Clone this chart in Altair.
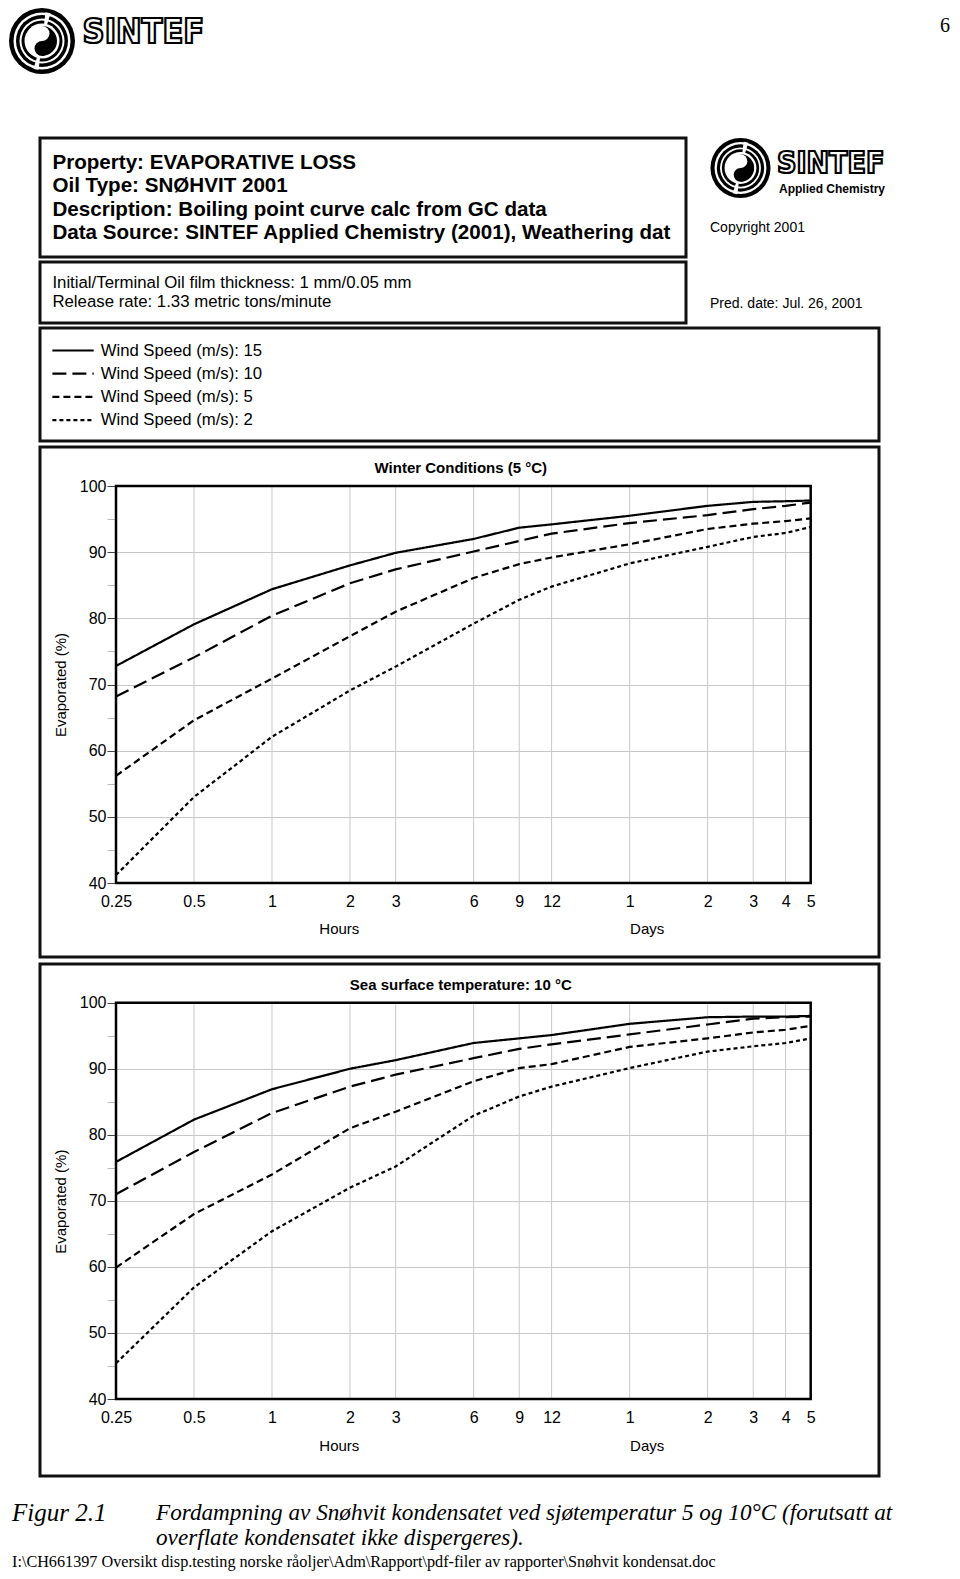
import altair as alt
import pandas as pd

# ---------------- data ----------------
hours = [0.25, 0.5, 1, 2, 3, 6, 9, 12, 24, 48, 72, 96, 120]
series_labels = ["Wind Speed (m/s): 15", "Wind Speed (m/s): 10",
                 "Wind Speed (m/s): 5", "Wind Speed (m/s): 2"]

winter_ws15 = [72.8, 79.1, 84.4, 88.0, 89.9, 92.0, 93.7, 94.2, 95.5, 97.0, 97.6, 97.7, 97.8]
winter_ws10 = [68.2, 74.1, 80.4, 85.3, 87.4, 90.1, 91.7, 92.8, 94.4, 95.6, 96.5, 97.0, 97.5]
winter_ws5 = [56.2, 64.6, 70.9, 77.3, 81.0, 86.1, 88.2, 89.2, 91.2, 93.5, 94.3, 94.7, 95.1]
winter_ws2 = [41.2, 53.0, 62.1, 69.1, 72.7, 79.2, 82.8, 84.8, 88.3, 90.8, 92.3, 92.9, 93.8]

sea10_ws15 = [75.9, 82.3, 86.9, 90.0, 91.3, 93.9, 94.6, 95.1, 96.8, 97.8, 97.9, 97.9, 98.0]
sea10_ws10 = [71.0, 77.4, 83.3, 87.3, 89.1, 91.6, 93.0, 93.7, 95.2, 96.7, 97.6, 97.8, 97.9]
sea10_ws5 = [59.9, 68.0, 74.0, 81.0, 83.5, 88.1, 90.1, 90.7, 93.3, 94.6, 95.5, 95.9, 96.5]
sea10_ws2 = [45.4, 56.9, 65.4, 72.0, 75.2, 82.9, 85.8, 87.3, 90.1, 92.6, 93.4, 93.9, 94.6]

y_tick_values = [40, 45, 50, 55, 60, 65, 70, 75, 80, 85, 90, 95, 100]

header_lines = ["Property: EVAPORATIVE LOSS", "Oil Type: SNØHVIT 2001",
                "Description: Boiling point curve calc from GC data",
                "Data Source: SINTEF Applied Chemistry (2001), Weathering data"]
info_lines = ["Initial/Terminal Oil film thickness: 1 mm/0.05 mm",
              "Release rate: 1.33 metric tons/minute"]

# ---------------- layout constants ----------------
W, H = 944, 1563
PX0, PX1 = 108, 802.7
DASHES = [[1, 0], [14, 6], [7, 4], [4, 3]]
FONT = "Liberation Sans"
ONE = alt.Data(values=[{}])


def long_df(lists):
    rows = []
    for lab, vals in zip(series_labels, lists):
        for h, v in zip(hours, vals):
            rows.append({"hours": h, "evap": v, "series": lab})
    return pd.DataFrame(rows)


def plot(df, y_top, y_bot):
    xs = alt.Scale(type="log", domain=[0.25, 120], range=[PX0, PX1], nice=False)
    ys = alt.Scale(domain=[40, 100], range=[y_bot, y_top], nice=False, zero=False)
    xaxis = alt.Axis(orient="bottom", offset=y_bot - H, values=hours,
                     labelExpr="datum.value >= 24 ? '' + (datum.value / 24) : '' + datum.value",
                     labelOverlap=False, labelFlush=False, labelFont=FONT, labelFontSize=16,
                     labelColor="black", labelBaseline="middle", labelPadding=18.5,
                     ticks=True, tickSize=0, domain=False, grid=False, title=None)
    yaxis = alt.Axis(orient="left", offset=-PX0, values=y_tick_values,
                     labelExpr="datum.value % 10 == 0 ? datum.label : ''",
                     labelFont=FONT, labelFontSize=16, labelColor="black",
                     labelPadding=1, tickSize=9, domain=False,
                     tickColor={"condition": {"test": "datum.value % 10 != 0", "value": "#bbbbbb"},
                                "value": "#444444"},
                     grid=True, gridWidth=1,
                     gridColor={"condition": {"test": "datum.value % 10 != 0", "value": "transparent"},
                                "value": "#c8c8c8"},
                     title=None)
    grid = alt.Chart(pd.DataFrame({"hours": hours})).mark_rule(
        color="#c8c8c8", strokeWidth=1).encode(
        x=alt.X("hours:Q", scale=xs, axis=xaxis),
        y=alt.YDatum(40, scale=ys, axis=yaxis),
        y2=alt.datum(100))
    lines = alt.Chart(df).mark_line(strokeWidth=2.2, color="black").encode(
        x=alt.X("hours:Q", scale=xs, axis=xaxis),
        y=alt.Y("evap:Q", scale=ys, axis=yaxis),
        strokeDash=alt.StrokeDash("series:N",
                                  scale=alt.Scale(domain=series_labels, range=DASHES),
                                  legend=None),
    )
    frame = alt.Chart(ONE).mark_rect(fillOpacity=0, stroke="black", strokeWidth=2.5).encode(
        x=alt.XDatum(0.25, scale=xs, axis=xaxis), x2=alt.datum(120),
        y=alt.YDatum(40, scale=ys, axis=yaxis), y2=alt.datum(100))
    return alt.layer(grid, lines, frame)


def text(s, x, y, size, weight="normal", font=FONT, align="left", style="normal",
         angle=0, **kw):
    return alt.Chart(ONE).mark_text(text=s, fontSize=size, fontWeight=weight, font=font,
                                    align=align, baseline="middle", fontStyle=style,
                                    angle=angle, **kw).encode(x=alt.value(x), y=alt.value(y))


def box(x1, y1, x2, y2, sw=3):
    return alt.Chart(ONE).mark_rect(fillOpacity=0, stroke="#111111", strokeWidth=sw).encode(
        x=alt.value(x1), x2=alt.value(x2), y=alt.value(y1), y2=alt.value(y2))


def hline(x1, x2, y, dash):
    return alt.Chart(ONE).mark_rule(color="black", strokeWidth=2.2, strokeDash=dash).encode(
        x=alt.value(x1), x2=alt.value(x2), y=alt.value(y))


def disk(cx, cy, r, color, r2=0, t0=0.0, t1=6.2832):
    return alt.Chart(ONE).mark_arc(radius=r, radius2=r2, theta=t0, theta2=t1,
                                   color=color).encode(x=alt.value(cx), y=alt.value(cy))


def logo(cx, cy, s):
    parts = [disk(cx, cy, 33 * s, "black"), disk(cx, cy, 28.5 * s, "white"),
             disk(cx, cy, 26 * s, "black"), disk(cx, cy, 22.5 * s, "white"),
             disk(cx, cy, 20.5 * s, "black"), disk(cx, cy, 17.5 * s, "white"),
             disk(cx, cy, 29 * s, "white", r2=16 * s, t0=0.12, t1=0.3),
             disk(cx, cy, 29 * s, "white", r2=16 * s, t0=3.26, t1=3.44),
             disk(cx, cy, 15 * s, "black", t0=0, t1=3.1416),
             disk(cx, cy - 7.5 * s, 7.5 * s, "white"),
             disk(cx, cy + 7.5 * s, 7.5 * s, "black")]
    return parts


def outlined(s, x, y, size):
    return alt.Chart(ONE).mark_text(text=s, fontSize=size, fontWeight="bold",
                                    font="Liberation Sans Narrow, DejaVu Sans Condensed, sans-serif",
                                    align="left", baseline="middle", fill="white",
                                    stroke="black", strokeWidth=2.2).encode(
        x=alt.value(x), y=alt.value(y))


layers = []
# page header logo + number
layers += logo(34, 33, 1.0)
layers.append(outlined("SINTEF", 74.6, 25, 34))
layers.append(text("6", 942, 18, 20, font="Liberation Serif", align="right"))

# title box
layers.append(box(32, 130, 678, 249))
for i, s in enumerate(header_lines):
    kw = {"limit": 630, "ellipsis": "\u200b"} if i == 3 else {}
    layers.append(text(s, 44.4, 154.7 + 23.5 * i, 20.6, weight="bold", **kw))
# info box
layers.append(box(32, 254, 678, 315))
for i, s in enumerate(info_lines):
    layers.append(text(s, 44.4, 275 + 19.2 * i, 16.8))
# right logo + texts
layers += logo(732.5, 160, 0.91)
layers.append(outlined("SINTEF", 769, 156, 30))
layers.append(text("Applied Chemistry", 771, 181.4, 12, weight="bold"))
layers.append(text("Copyright 2001", 702, 219.6, 14))
layers.append(text("Pred. date: Jul. 26, 2001", 702, 296.2, 14))

# legend box
layers.append(box(32, 320, 871, 433))
for i, (lab, dash) in enumerate(zip(series_labels, DASHES)):
    yy = 342.5 + 23.2 * i
    layers.append(hline(44.4, 85.7, yy, dash))
    layers.append(text(lab, 92.7, yy, 16.7))

# chart 1 box
layers.append(box(32, 439, 871, 949))
layers.append(text("Winter Conditions (5 °C)", 452.8, 460.4, 15, weight="bold", align="center"))
layers.append(text("Evaporated (%)", 53.4, 677, 15, align="center", angle=270))
layers.append(text("Hours", 331.3, 920.7, 15, align="center"))
layers.append(text("Days", 639.2, 920.7, 15, align="center"))

# chart 2 box
layers.append(box(32, 956, 871, 1468))
layers.append(text("Sea surface temperature: 10 °C", 452.8, 977.1, 15, weight="bold", align="center"))
layers.append(text("Evaporated (%)", 53.4, 1193.7, 15, align="center", angle=270))
layers.append(text("Hours", 331.3, 1437.5, 15, align="center"))
layers.append(text("Days", 639.2, 1437.5, 15, align="center"))

# footer
layers.append(text("Figur 2.1", 4, 1505, 25, font="Liberation Serif", style="italic"))
layers.append(text("Fordampning av Snøhvit kondensatet ved sjøtemperatur 5 og 10°C (forutsatt at",
                   148, 1505, 23.2, font="Liberation Serif", style="italic"))
layers.append(text("overflate kondensatet ikke dispergeres).", 148, 1529.5, 23.2,
                   font="Liberation Serif", style="italic"))
layers.append(text(r"I:\CH661397 Oversikt disp.testing norske råoljer\Adm\Rapport\pdf-filer av rapporter\Snøhvit kondensat.doc",
                   4, 1553.5, 16.2, font="Liberation Serif"))

p1 = plot(long_df([winter_ws15, winter_ws10, winter_ws5, winter_ws2]), 478, 875)
p2 = plot(long_df([sea10_ws15, sea10_ws10, sea10_ws5, sea10_ws2]), 994.7, 1391)

chart = alt.layer(p1, p2, *layers).resolve_scale(
    x="independent", y="independent"
).resolve_axis(
    x="independent", y="independent"
).properties(
    width=W, height=H, autosize=alt.AutoSizeParams(type="none"), padding=0,
    background="white"
).configure_view(stroke="transparent")

chart.save("out.html", embed_options={"renderer": "svg", "actions": False})
